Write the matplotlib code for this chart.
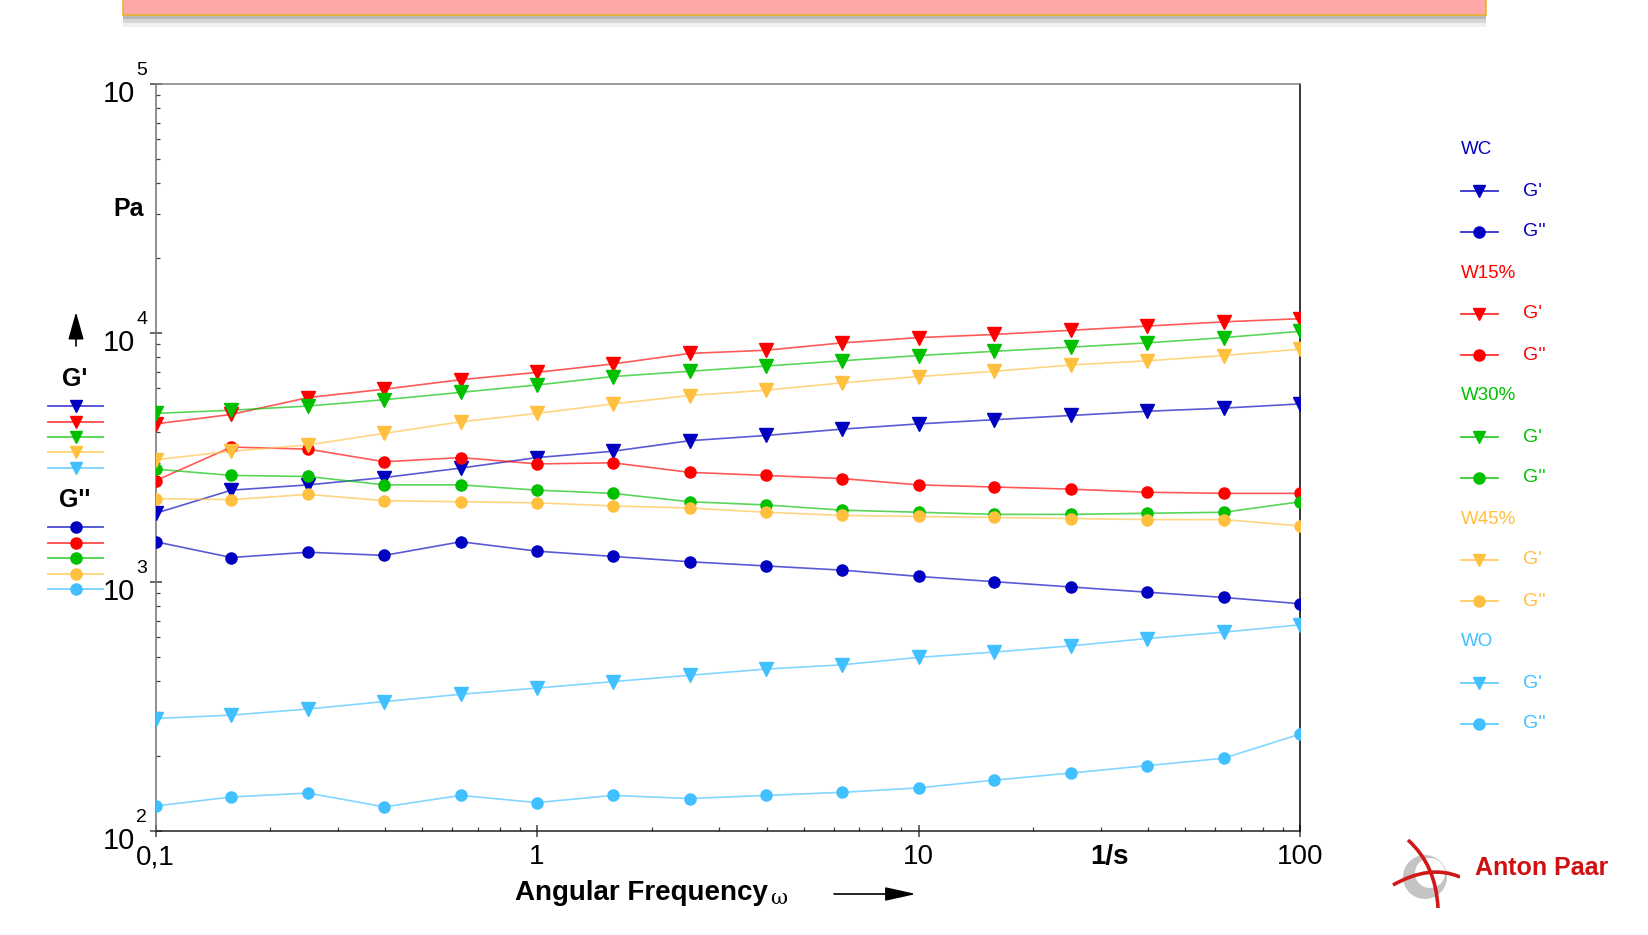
import numpy as np
import matplotlib.pyplot as plt
from matplotlib.lines import Line2D
from matplotlib.patches import Rectangle, PathPatch, Circle
from matplotlib.path import Path

W, H = 1648, 935

# frequency sweep, 5 points per decade
omega = [0.1, 0.158, 0.251, 0.398, 0.631, 1.0, 1.58, 2.51, 3.98, 6.31,
         10.0, 15.8, 25.1, 39.8, 63.1, 100.0]

# storage modulus G' and loss modulus G'' in Pa
wc_g1 = [1888, 2338, 2455, 2627, 2868, 3160, 3350, 3693, 3877, 4111, 4315, 4486, 4664, 4850, 4993, 5190]
wc_g2 = [1451, 1254, 1317, 1279, 1451, 1330, 1267, 1206, 1160, 1116, 1053, 1003, 955, 910, 867, 818]
w15_g1 = [4315, 4710, 5504, 5949, 6493, 6950, 7512, 8279, 8525, 9127, 9581, 9865, 10257, 10664, 11086, 11416]
w15_g2 = [2552, 3483, 3416, 3040, 3160, 2981, 3011, 2757, 2679, 2602, 2455, 2407, 2360, 2293, 2270, 2270]
w30_g1 = [4755, 4896, 5090, 5396, 5776, 6184, 6685, 7018, 7367, 7735, 8120, 8442, 8777, 9127, 9581, 10157]
w30_g2 = [2840, 2679, 2653, 2455, 2455, 2338, 2270, 2100, 2040, 1943, 1906, 1869, 1869, 1888, 1906, 2100]
w45_g1 = [3099, 3350, 3552, 3954, 4399, 4755, 5190, 5610, 5892, 6305, 6685, 7018, 7440, 7735, 8120, 8610]
w45_g2 = [2163, 2142, 2248, 2121, 2100, 2080, 2021, 1982, 1906, 1851, 1833, 1816, 1798, 1781, 1781, 1680]
wo_g1 = [283, 292, 309, 331, 354, 375, 398, 422, 447, 465, 498, 523, 554, 593, 629, 673]
wo_g2 = [126, 137, 142, 125, 139, 130, 139, 135, 139, 143, 149, 160, 171, 183, 196, 245]

samples = ['WC', 'W15%', 'W30%', 'W45%', 'WO']
g1_series = [wc_g1, w15_g1, w30_g1, w45_g1, wo_g1]
g2_series = [wc_g2, w15_g2, w30_g2, w45_g2, wo_g2]
colors = ['#0000C0', '#FF0000', '#00C000', '#FFC040', '#40C0FF']

x_ticks = [0.1, 1, 10, 100]
x_tick_labels = ['0,1', '1', '10', '100']
y_exponents = [2, 3, 4, 5]

sans = ['Liberation Sans', 'DejaVu Sans']


def fx(x):
    return x / W


def fy(y):
    return 1 - y / H


fig = plt.figure(figsize=(W / 100, H / 100), dpi=100)

# banner at the top, with a soft shadow
for off, a in [(27, 0.12), (23, 0.22), (19, 0.35)]:
    fig.add_artist(Rectangle((fx(123), fy(off)), fx(1363), (off - 14) / H,
                             transform=fig.transFigure, color='#808080', alpha=a, lw=0))
fig.add_artist(Rectangle((fx(123), fy(15)), fx(1363), 16 / H, transform=fig.transFigure,
                         facecolor='#FFA8A8', edgecolor='#E8B030', lw=1.2))

ax = fig.add_axes([fx(155.6), fy(831), fx(1300 - 155.6), (831 - 84) / H])
ax.set_xscale('log')
ax.set_yscale('log')
ax.set_xlim(0.1, 100)
ax.set_ylim(100, 1e5)

for i in range(5):
    ax.plot(omega, g1_series[i], color=colors[i], lw=1.2, alpha=0.65, zorder=2)
    ax.plot(omega, g2_series[i], color=colors[i], lw=1.2, alpha=0.65, zorder=2)
    ax.plot(omega, g1_series[i], 'v', color=colors[i], ms=9.5, ls='none', zorder=3)
    ax.plot(omega, g2_series[i], 'o', color=colors[i], ms=8, ls='none', zorder=3)

ax.spines['left'].set_color('#707070')
ax.spines['top'].set_color('#808080')
ax.spines['bottom'].set_color('#202020')
ax.spines['right'].set_color('#000000')
for s in ax.spines.values():
    s.set_linewidth(1.1)

ax.set_xticks(x_ticks)
ax.set_yticks([10 ** e for e in y_exponents])
ax.tick_params(which='major', direction='inout', length=8, width=1.1,
               labelbottom=False, labelleft=False, colors='#404040')
ax.tick_params(which='minor', direction='in', length=3, width=0.9, colors='#404040',
               labelbottom=False, labelleft=False)

# decade labels on the y axis
for e in y_exponents:
    ax.annotate('10', xy=(0, 10 ** e), xycoords=('axes fraction', 'data'),
                xytext=(-14.5, -7), textcoords='offset points', ha='right', va='center',
                fontsize=21, family=sans)
    ax.annotate(str(e), xy=(0, 10 ** e), xycoords=('axes fraction', 'data'),
                xytext=(-14, 10), textcoords='offset points', ha='left', va='center',
                fontsize=14, family=sans)

for v, lab in zip(x_ticks, x_tick_labels):
    ax.annotate(lab, xy=(v, 0), xycoords=('data', 'axes fraction'),
                xytext=(0, -19), textcoords='offset points', ha='center', va='center',
                fontsize=20, family=sans)
ax.annotate('1/s', xy=(10 ** 1.5, 0), xycoords=('data', 'axes fraction'),
            xytext=(0, -19), textcoords='offset points', ha='center', va='center',
            fontsize=20, fontweight='bold', family=sans)

# axis titles
fig.text(fx(515), fy(893), 'Angular Frequency', fontsize=20, fontweight='bold',
         family=sans, ha='left', va='center')
fig.text(fx(770), fy(898), 'ω', fontsize=15, family=['DejaVu Serif'], ha='left', va='center')
ax.annotate('', xy=(fx(916), fy(894)), xytext=(fx(834), fy(894)), xycoords='figure fraction',
            arrowprops=dict(arrowstyle='-|>,head_length=1.35,head_width=0.3', color='k',
                            lw=1.2, mutation_scale=14, shrinkA=0, shrinkB=0))

fig.text(fx(129), fy(209), 'Pa', fontsize=18, fontweight='bold', family=sans,
         ha='center', va='center')
ax.annotate('', xy=(fx(76), fy(312)), xytext=(fx(76), fy(346)), xycoords='figure fraction',
            arrowprops=dict(arrowstyle='-|>,head_length=1.0,head_width=0.28', color='k',
                            lw=1.2, mutation_scale=17, shrinkA=0, shrinkB=0))

# modulus key on the left
fig.text(fx(75), fy(379), "G'", fontsize=18, fontweight='bold', family=sans,
         ha='center', va='center')
fig.text(fx(75), fy(500), "G''", fontsize=18, fontweight='bold', family=sans,
         ha='center', va='center')
for i, c in enumerate(colors):
    for y0, mk, ms in [(406 + 15.5 * i, 'v', 9), (527 + 15.6 * i, 'o', 8)]:
        fig.add_artist(Line2D([fx(48), fx(75.5), fx(103)], [fy(y0)] * 3,
                              transform=fig.transFigure, color=c, lw=1.3, alpha=0.7))
        fig.add_artist(Line2D([fx(75.5)], [fy(y0)], transform=fig.transFigure,
                              marker=mk, ms=ms, color=c, ls='none'))

# sample key on the right
for i, (name, c) in enumerate(zip(samples, colors)):
    top = 150 + 123 * i
    fig.text(fx(1461), fy(top), name, fontsize=13.5, color=c, family=sans,
             ha='left', va='center')
    for k, (mk, ms, lab) in enumerate([('v', 9, "G'"), ('o', 8, "G''")]):
        y0 = top + 41 * (k + 1)
        fig.add_artist(Line2D([fx(1461), fx(1498)], [fy(y0)] * 2,
                              transform=fig.transFigure, color=c, lw=1.3, alpha=0.8))
        fig.add_artist(Line2D([fx(1479)], [fy(y0)], transform=fig.transFigure,
                              marker=mk, ms=ms, color=c, ls='none'))
        fig.text(fx(1523), fy(y0), lab, fontsize=14, color=c, family=sans,
                 ha='left', va='center')

# company mark
lax = fig.add_axes([fx(1390), fy(910), fx(70), 75 / H])
lax.set_xlim(0, 70)
lax.set_ylim(0, 75)
lax.set_aspect('equal')
lax.axis('off')
lax.add_patch(Circle((35, 33), 22, color='#c4c4c4', lw=0))
lax.add_patch(Circle((40, 37), 15, color='white', lw=0))
lax.add_patch(PathPatch(Path([(3, 25), (40, 46), (70, 33)], [Path.MOVETO, Path.CURVE3, Path.CURVE3]),
                        facecolor='none', edgecolor='#D01818', lw=2.6))
lax.add_patch(PathPatch(Path([(18, 70), (46, 45), (48, 2)], [Path.MOVETO, Path.CURVE3, Path.CURVE3]),
                        facecolor='none', edgecolor='#D01818', lw=2.6))
fig.text(fx(1475), fy(868), 'Anton Paar', fontsize=18, fontweight='bold', color='#D01010',
         family=sans, ha='left', va='center')

fig.savefig('out.png', dpi=100)
